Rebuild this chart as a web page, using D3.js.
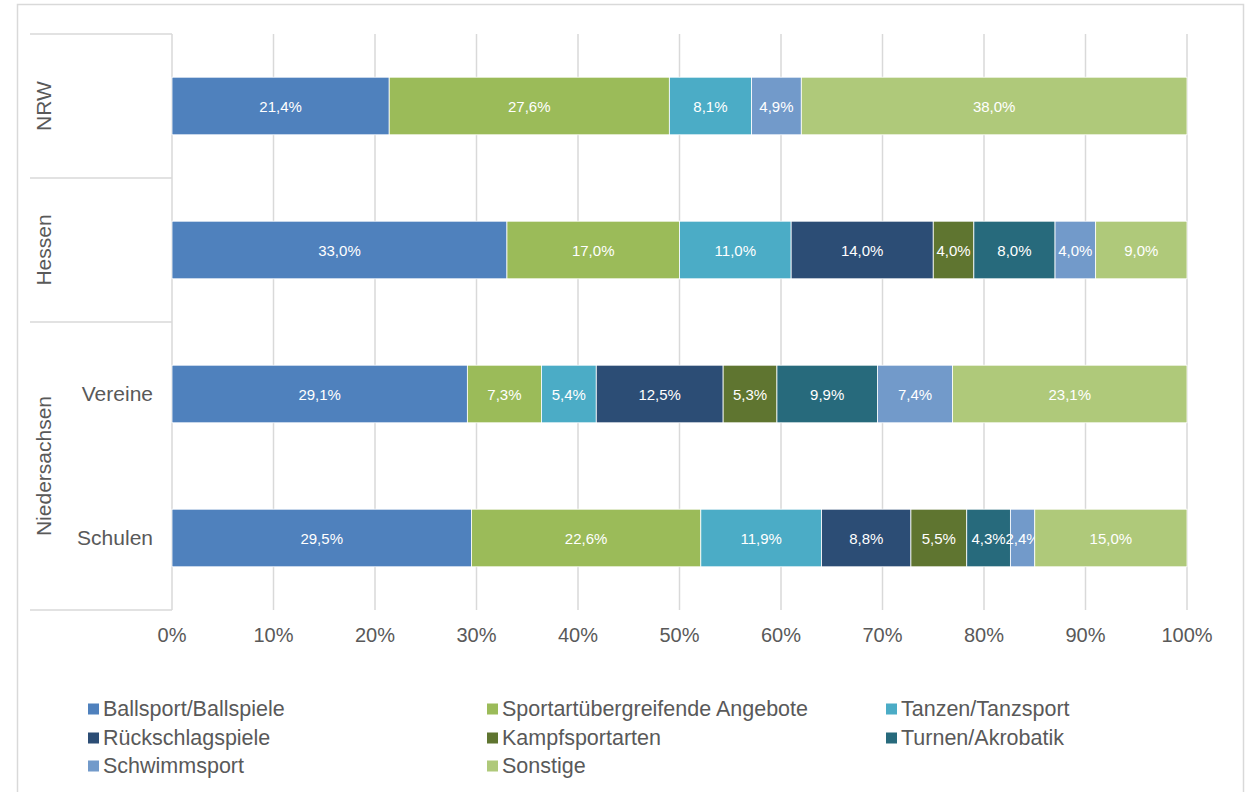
<!DOCTYPE html>
<html><head><meta charset="utf-8">
<script src="https://cdn.jsdelivr.net/npm/d3@7"></script>
<style>body{margin:0;background:#fff;font-family:Arial,"Liberation Sans",sans-serif;}</style>
</head><body><svg id="c" width="1254" height="792"></svg>
<script>
const rows = ["NRW","Hessen","Vereine","Schulen"];
const groups = [{name:"NRW",rows:["NRW"],sub:false},{name:"Hessen",rows:["Hessen"],sub:false},{name:"Niedersachsen",rows:["Vereine","Schulen"],sub:true}];
const series = ["Ballsport/Ballspiele","Sportartübergreifende Angebote","Tanzen/Tanzsport","Rückschlagspiele","Kampfsportarten","Turnen/Akrobatik","Schwimmsport","Sonstige"];
const colors = ["#4f81bd","#9bbb59","#4bacc6","#2c4d75","#5f7530","#276a7c","#729aca","#afc97a"];
const ballsport = [21.4,33.0,29.1,29.5];
const uebergreifend = [27.6,17.0,7.3,22.6];
const tanzen = [8.1,11.0,5.4,11.9];
const rueckschlag = [0,14.0,12.5,8.8];
const kampf = [0,4.0,5.3,5.5];
const turnen = [0,8.0,9.9,4.3];
const schwimm = [4.9,4.0,7.4,2.4];
const sonstige = [38.0,9.0,23.1,15.0];
const values = [ballsport,uebergreifend,tanzen,rueckschlag,kampf,turnen,schwimm,sonstige];
const ticks = [0,10,20,30,40,50,60,70,80,90,100];

const svg = d3.select("#c");
const grey = "#595959", lineC = "#d9d9d9";
svg.append("rect").attr("x",17.5).attr("y",4.5).attr("width",1226).attr("height",800).attr("fill","none").attr("stroke",lineC).attr("stroke-width",1.5);

const x = d3.scaleLinear().domain([0,100]).range([172,1187]);
const y = d3.scaleBand().domain(rows).range([34,610]).paddingInner(0.6).paddingOuter(0.3);

svg.append("g").selectAll("line").data(ticks.slice(1)).join("line")
  .attr("x1",d=>x(d)).attr("x2",d=>x(d)).attr("y1",34).attr("y2",610)
  .attr("stroke",lineC).attr("stroke-width",1.5);
svg.append("line").attr("x1",172).attr("x2",172).attr("y1",34).attr("y2",610).attr("stroke",lineC).attr("stroke-width",1.5);

const data = rows.map((r,i)=>{const o={row:r}; series.forEach((s,j)=>o[s]=values[j][i]); return o;});
const stack = d3.stack().keys(series)(data);
const g = svg.append("g");
stack.forEach((layer,j)=>{
  layer.forEach((seg,i)=>{
    const v = seg[1]-seg[0];
    if (v<=0) return;
    g.append("rect").attr("x",x(seg[0])).attr("y",y(rows[i])).attr("width",x(seg[1])-x(seg[0])).attr("height",y.bandwidth())
      .attr("fill",colors[j]).attr("stroke","#fff").attr("stroke-width",0.8);
    g.append("text").attr("x",(x(seg[0])+x(seg[1]))/2).attr("y",y(rows[i])+y.bandwidth()/2+5.5)
      .attr("text-anchor","middle").attr("fill","#fff").attr("font-size",15)
      .text(v.toFixed(1).replace(".",",")+"%");
  });
});

svg.append("g").selectAll("text").data(ticks).join("text")
  .attr("x",d=>x(d)).attr("y",642).attr("text-anchor","middle").attr("fill",grey).attr("font-size",20)
  .text(d=>d+"%");

const step = (610-34)/rows.length;
[0,1,2,4].forEach(b=>{
  svg.append("line").attr("x1",30).attr("x2",172).attr("y1",34+b*step).attr("y2",34+b*step).attr("stroke",lineC).attr("stroke-width",1.5);
});
let idx=0;
groups.forEach(gr=>{
  const y0 = 34+idx*step, y1 = 34+(idx+gr.rows.length)*step;
  svg.append("text").attr("transform",`translate(51,${(y0+y1)/2}) rotate(-90)`).attr("text-anchor","middle")
    .attr("fill",grey).attr("font-size",21).text(gr.name);
  if (gr.sub) {
    gr.rows.forEach(r=>{
      svg.append("text").attr("x",153).attr("y",y(r)+y.bandwidth()/2+7).attr("text-anchor","end")
        .attr("fill",grey).attr("font-size",21).text(r);
    });
  }
  idx+=gr.rows.length;
});

const legX = [88,487,886], legY = [709,738,766];
series.forEach((s,i)=>{
  const cx = legX[i%3], cy = legY[Math.floor(i/3)];
  svg.append("rect").attr("x",cx).attr("y",cy-5.5).attr("width",11).attr("height",11).attr("fill",colors[i]);
  svg.append("text").attr("x",cx+15).attr("y",cy+7).attr("fill",grey).attr("font-size",21.5).text(s);
});
</script></body></html>
